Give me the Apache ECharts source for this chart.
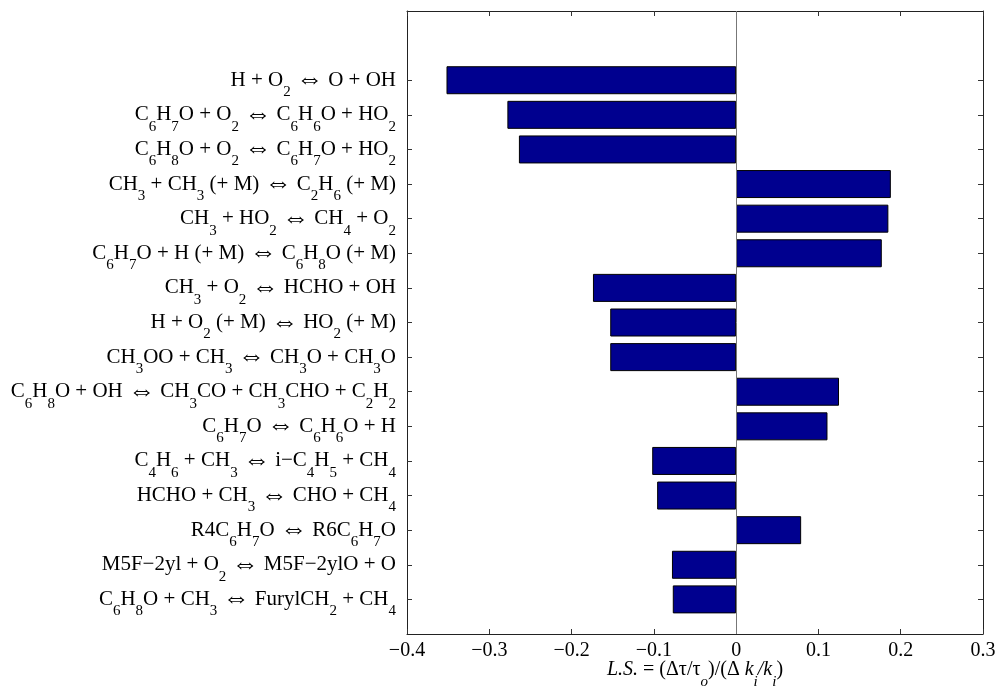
<!DOCTYPE html>
<html><head><meta charset="utf-8">
<script src="https://cdn.jsdelivr.net/npm/echarts@6/dist/echarts.min.js"></script>
<style>html,body{margin:0;padding:0;background:#fff}#c{width:997px;height:687px}</style>
</head><body><div id="c"></div>
<script>
// Reactions, top to bottom as drawn
const reactions = [
  'H + O_{2} ⇔ O + OH',
  'C_{6}H_{7}O + O_{2} ⇔ C_{6}H_{6}O + HO_{2}',
  'C_{6}H_{8}O + O_{2} ⇔ C_{6}H_{7}O + HO_{2}',
  'CH_{3} + CH_{3} (+ M) ⇔ C_{2}H_{6} (+ M)',
  'CH_{3} + HO_{2} ⇔ CH_{4} + O_{2}',
  'C_{6}H_{7}O + H (+ M) ⇔ C_{6}H_{8}O (+ M)',
  'CH_{3} + O_{2} ⇔ HCHO + OH',
  'H + O_{2} (+ M) ⇔ HO_{2} (+ M)',
  'CH_{3}OO + CH_{3} ⇔ CH_{3}O + CH_{3}O',
  'C_{6}H_{8}O + OH ⇔ CH_{3}CO + CH_{3}CHO + C_{2}H_{2}',
  'C_{6}H_{7}O ⇔ C_{6}H_{6}O + H',
  'C_{4}H_{6} + CH_{3} ⇔ i−C_{4}H_{5} + CH_{4}',
  'HCHO + CH_{3} ⇔ CHO + CH_{4}',
  'R4C_{6}H_{7}O ⇔ R6C_{6}H_{7}O',
  'M5F−2yl + O_{2} ⇔ M5F−2ylO + O',
  'C_{6}H_{8}O + CH_{3} ⇔ FurylCH_{2} + CH_{4}'
];
const sensitivity = [-0.352, -0.278, -0.264, 0.188, 0.185, 0.177, -0.174, -0.153, -0.153, 0.125, 0.111, -0.102, -0.096, 0.079, -0.078, -0.077];
const xMin = -0.4, xMax = 0.3, xStep = 0.1;

// category slots: one empty slot below, two empty above (axis limits 0..18)
const cats = [''].concat(reactions.slice().reverse(), ['', '']);
const vals = [null].concat(sensitivity.slice().reverse(), [null, null]);

function plain(t) {
  return t.split('⇔').map(function (p) { return p ? '{n|' + p + '}' : ''; }).join('{a|⇔}');
}
function toRich(s) {
  let out = '', last = 0; const re = /_\{([^}]*)\}/g; let m;
  while ((m = re.exec(s)) !== null) {
    if (m.index > last) out += plain(s.slice(last, m.index));
    out += '{s|' + m[1] + '}';
    last = re.lastIndex;
  }
  if (last < s.length) out += plain(s.slice(last));
  return out;
}
const FONT = 'Liberation Serif';
const FS = 21, SFS = 15;
const richStyles = {
  n: {fontFamily: FONT, fontSize: FS, lineHeight: 20, color: '#000'},
  a: {fontFamily: 'DejaVu Sans', fontWeight: 200, fontSize: 27, lineHeight: 20, color: '#000'},
  s: {fontFamily: FONT, fontSize: SFS, lineHeight: 14, padding: [24, 0, 0, 0], color: '#000'},
  i: {fontFamily: FONT, fontSize: 20, lineHeight: 20, fontStyle: 'italic', color: '#000'},
  x: {fontFamily: FONT, fontSize: 20, lineHeight: 20, color: '#000'},
  is: {fontFamily: FONT, fontSize: SFS, lineHeight: 14, fontStyle: 'italic', padding: [24, 0, 0, 0], color: '#000'}
};
const xName = '{i|L.S.}{x| = (Δτ/τ}{is|o}{x|)/(Δ }{i|k}{is|i}{i|/k}{is|i}{x|)}';

const frame = {show: true, onZero: false, lineStyle: {color: '#222', width: 1}};
const tick = {show: true, inside: true, length: 5, lineStyle: {color: '#333', width: 1}};
const catTick = Object.assign({}, tick, {interval: function (i, v) { return v !== ''; }});

const chart = echarts.init(document.getElementById('c'), null, {renderer: 'canvas'});
chart.setOption({
  animation: false,
  backgroundColor: '#fff',
  grid: {left: 407, right: 14, top: 11, bottom: 53, containLabel: false, outerBoundsMode: 'none'},
  xAxis: [{
    type: 'value', position: 'bottom', min: xMin, max: xMax, interval: xStep,
    axisLine: frame, axisTick: tick, splitLine: {show: false},
    axisLabel: {fontFamily: FONT, fontSize: 20, color: '#000', margin: 7,
      formatter: function (v) { const r = Math.round(v * 10) / 10; return r === 0 ? '0' : r.toFixed(1).replace('-', '−'); }},
    name: xName, nameLocation: 'middle', nameGap: 26, nameMoveOverlap: false,
    nameTextStyle: {rich: richStyles}
  }, {
    type: 'value', position: 'top', min: xMin, max: xMax, interval: xStep,
    axisLine: frame, axisTick: tick, splitLine: {show: false}, axisLabel: {show: false}
  }],
  yAxis: [{
    type: 'category', position: 'left', data: cats, boundaryGap: false,
    axisLine: frame, axisTick: catTick, splitLine: {show: false},
    axisLabel: {interval: 0, margin: 11, formatter: function (v) { return v ? toRich(v) : ''; }, rich: richStyles}
  }, {
    type: 'category', position: 'right', data: cats, boundaryGap: false,
    axisLine: frame, axisTick: catTick, splitLine: {show: false}, axisLabel: {show: false}
  }],
  series: [{
    type: 'bar', xAxisIndex: 0, yAxisIndex: 0, data: vals, barWidth: 28,
    itemStyle: {color: '#00008F', borderColor: '#000', borderWidth: 1},
    markLine: {silent: true, symbol: 'none', label: {show: false},
      lineStyle: {color: '#777', width: 1, type: 'solid'}, data: [{xAxis: 0}]}
  }]
});
</script></body></html>
